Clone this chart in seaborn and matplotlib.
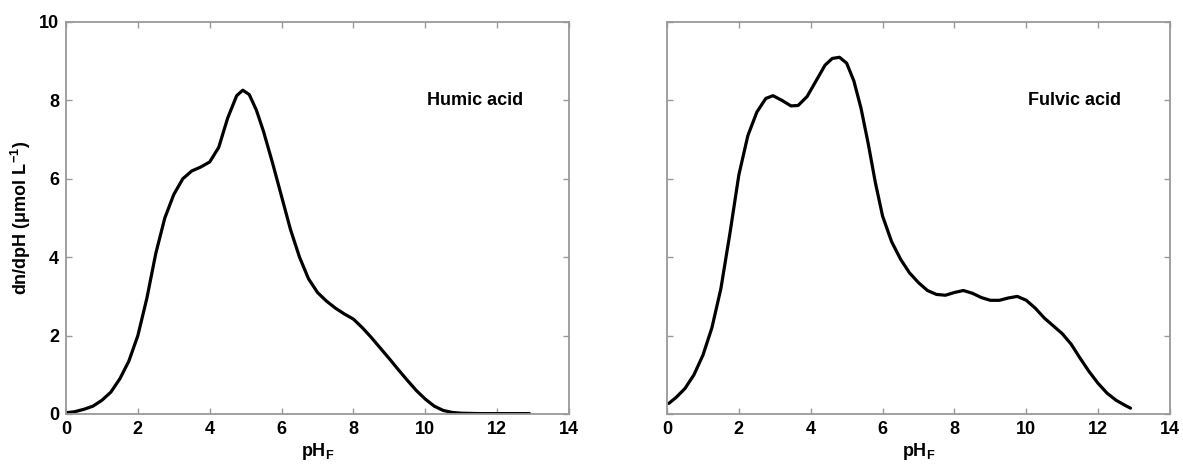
import numpy as np
import pandas as pd
import matplotlib
matplotlib.use("Agg")
import matplotlib.pyplot as plt
import seaborn as sns

# ---- data ----
humic_ph = [0.0, 0.25, 0.5, 0.75, 1.0, 1.25, 1.5, 1.75, 2.0, 2.25, 2.5, 2.75, 3.0,
            3.25, 3.5, 3.75, 4.0, 4.25, 4.5, 4.75, 4.92, 5.1, 5.3, 5.5, 5.75, 6.0,
            6.25, 6.5, 6.75, 7.0, 7.25, 7.5, 7.75, 8.0, 8.25, 8.5, 8.75, 9.0, 9.25,
            9.5, 9.75, 10.0, 10.25, 10.5, 10.75, 11.0, 11.5, 12.0, 12.9]
humic_val = [0.03, 0.06, 0.12, 0.2, 0.35, 0.56, 0.9, 1.35, 2.0, 2.95, 4.1, 5.0, 5.6,
             6.0, 6.2, 6.3, 6.43, 6.8, 7.55, 8.12, 8.26, 8.15, 7.75, 7.2, 6.4, 5.55,
             4.7, 4.0, 3.45, 3.1, 2.88, 2.7, 2.55, 2.42, 2.2, 1.95, 1.68, 1.41, 1.13,
             0.86, 0.6, 0.38, 0.2, 0.09, 0.04, 0.02, 0.01, 0.01, 0.01]

fulvic_ph = [0.05, 0.25, 0.5, 0.75, 1.0, 1.25, 1.5, 1.75, 2.0, 2.25, 2.5, 2.75, 2.95,
             3.2, 3.45, 3.65, 3.9, 4.15, 4.4, 4.6, 4.8, 5.0, 5.2, 5.4, 5.6, 5.8, 6.0,
             6.25, 6.5, 6.75, 7.0, 7.25, 7.5, 7.75, 8.0, 8.25, 8.5, 8.75, 9.0, 9.25,
             9.5, 9.75, 10.0, 10.25, 10.5, 10.75, 11.0, 11.25, 11.5, 11.75, 12.0,
             12.25, 12.5, 12.75, 12.9]
fulvic_val = [0.27, 0.42, 0.65, 1.0, 1.5, 2.2, 3.2, 4.6, 6.1, 7.1, 7.7, 8.05, 8.12,
              8.0, 7.86, 7.87, 8.1, 8.5, 8.9, 9.07, 9.1, 8.95, 8.5, 7.8, 6.9, 5.9, 5.05,
              4.4, 3.95, 3.6, 3.35, 3.15, 3.05, 3.03, 3.1, 3.15, 3.08, 2.97, 2.9, 2.9,
              2.96, 3.0, 2.9, 2.7, 2.45, 2.25, 2.05, 1.78, 1.42, 1.08, 0.78,
              0.53, 0.35, 0.22, 0.15]

panel_labels = ["Humic acid", "Fulvic acid"]
x_ticks = [0, 2, 4, 6, 8, 10, 12, 14]
y_ticks = [0, 2, 4, 6, 8, 10]

sns.set_theme(style="white")
plt.rcParams["font.family"] = ["Liberation Sans", "DejaVu Sans"]
plt.rcParams["font.weight"] = "bold"
plt.rcParams["text.color"] = "black"
plt.rcParams["axes.labelcolor"] = "black"
plt.rcParams["xtick.color"] = "black"
plt.rcParams["ytick.color"] = "black"
plt.rcParams["mathtext.fontset"] = "custom"
plt.rcParams["mathtext.rm"] = "Liberation Sans:bold"
plt.rcParams["mathtext.it"] = "Liberation Sans:bold"
plt.rcParams["mathtext.bf"] = "Liberation Sans:bold"

W, H = 1183, 471
fig = plt.figure(figsize=(W / 100, H / 100), dpi=100)
ax1 = fig.add_axes([66 / W, (H - 414) / H, 503 / W, 392 / H])
ax2 = fig.add_axes([667 / W, (H - 414) / H, 503 / W, 392 / H])

data = [(humic_ph, humic_val), (fulvic_ph, fulvic_val)]
spine_col = "#999999"
for i, (ax, (xs, ys), lab) in enumerate(zip([ax1, ax2], data, panel_labels)):
    df = pd.DataFrame({"pH": xs, "v": ys})
    sns.lineplot(data=df, x="pH", y="v", ax=ax, color="black", linewidth=2.3)
    ax.set_xlim(0, 14)
    ax.set_ylim(0, 10)
    ax.set_xticks(x_ticks)
    ax.set_yticks(y_ticks)
    for s in ax.spines.values():
        s.set_color(spine_col)
        s.set_linewidth(1.3)
        s.set_visible(True)
    ax.tick_params(direction="in", length=4, width=1, color=spine_col,
                   top=True, right=True, bottom=True, left=True,
                   labelsize=13, labelcolor="black", pad=5)
    for t in ax.get_xticklabels() + ax.get_yticklabels():
        t.set_fontweight("bold")
    ax.set_xlabel(r"pH$_\mathregular{F}$", fontsize=13, fontweight="bold",
                  labelpad=2, color="black")
    ax.text(10.05, 8.0, lab, fontsize=13, fontweight="bold", ha="left",
            va="center", color="black")
    if i == 0:
        ax.set_ylabel(r"dn/dpH ($\mathregular{\mu}$mol L$^{\mathregular{-1}}$)",
                      fontsize=13, fontweight="bold", labelpad=4, color="black")
    else:
        ax.set_ylabel("")
        ax.set_yticklabels([])

fig.savefig("out.png", dpi=100, facecolor="white")
